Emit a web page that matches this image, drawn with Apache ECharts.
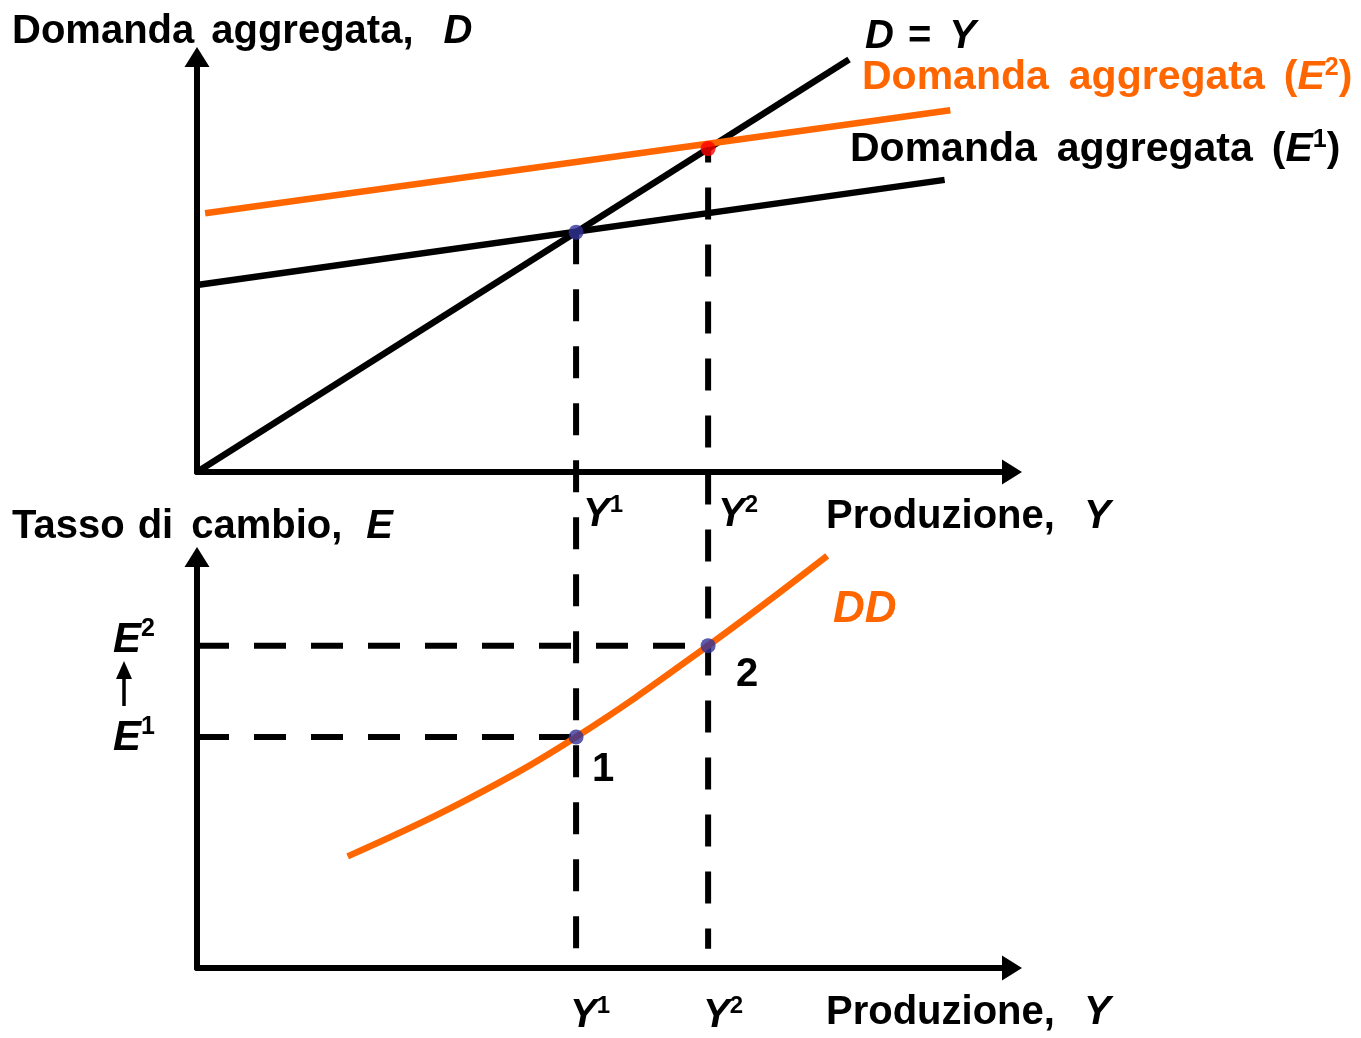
<!DOCTYPE html>
<html>
<head>
<meta charset="utf-8">
<script src="https://cdn.jsdelivr.net/npm/echarts@6/dist/echarts.min.js"></script>
<style>
html, body { margin: 0; padding: 0; background: #fff; }
#main { width: 1361px; height: 1038px; }
</style>
</head>
<body>
<div id="main"></div>
<script>
// valori (unità arbitrarie)
var Y1 = 46.8, Y2 = 63.1;          // produzione di equilibrio
var E1 = 56.9, E2 = 79.4;          // tassi di cambio
var lineDY = [[0, 0], [80.5, 80.5]];             // D = Y
var lineAD1 = [[0, 36.5], [92.3, 57.0]];         // domanda aggregata (E1)
var lineAD2 = [[1.0, 50.5], [93.0, 70.6]];       // domanda aggregata (E2)
var curveDD = [[18.6, 27.5], [32.8, 40.9], [Y1, E1], [Y2, E2], [77.8, 101.5]];
var dropEnd = -93;                               // fine delle tratteggiate (scala del pannello alto)

var ORANGE = '#FF6600';
var FONT = '"Liberation Sans", Arial, sans-serif';

var myChart = echarts.init(document.getElementById('main'));

function axis(gridIndex, max) {
    return {
        type: 'value', gridIndex: gridIndex, min: 0, max: max,
        axisLine: { show: true, onZero: false, symbol: ['none', 'triangle'], symbolSize: [25, 20],
            symbolOffset: [0, 5], lineStyle: { color: '#000', width: 6 } },
        axisTick: { show: false }, axisLabel: { show: false }, splitLine: { show: false }
    };
}

// parts: ['n', testo] normale, ['i', testo] corsivo, ['s', testo] apice, numero = spazio in px
function label(parts, x, y, size, color) {
    color = color || '#000';
    var rich = {
        n: { fontSize: size, fontWeight: 'bold', fontFamily: FONT, fill: color, lineHeight: size + 4 },
        i: { fontSize: size, fontWeight: 'bold', fontStyle: 'italic', fontFamily: FONT, fill: color, lineHeight: size + 4 },
        s: { fontSize: Math.round(size * 0.6), fontWeight: 'bold', fontFamily: FONT, fill: color,
            verticalAlign: 'top', lineHeight: Math.round(size * 0.6) }
    };
    var text = '';
    parts.forEach(function (p) {
        if (typeof p === 'number') {
            rich['g' + p] = { width: p, fontSize: size, lineHeight: size + 4 };
            text += '{g' + p + '| }';
        } else {
            text += '{' + p[0] + '|' + p[1] + '}';
        }
    });
    return {
        type: 'text', x: x, y: y, z: 100,
        style: { text: text, rich: rich, verticalAlign: 'middle', align: 'left',
            font: 'bold ' + size + 'px ' + FONT }
    };
}

function dash(data, xi, offset) {
    return {
        type: 'line', xAxisIndex: xi, yAxisIndex: xi, data: data, symbol: 'none', clip: false,
        lineStyle: { color: '#000', width: 6, type: [32, 25], dashOffset: offset || 0 }, z: 1
    };
}

function solid(data, xi, color, smooth) {
    return {
        type: 'line', xAxisIndex: xi, yAxisIndex: xi, data: data, symbol: 'none', clip: false,
        smooth: smooth || false,
        lineStyle: { color: color, width: 6.5, cap: 'butt' }, z: 2
    };
}

function dots(data, xi, color) {
    return {
        type: 'scatter', xAxisIndex: xi, yAxisIndex: xi, data: data, symbolSize: 15,
        itemStyle: { color: color }, clip: false, z: 5
    };
}

var option = {
    animation: false,
    grid: [
        { left: 197, top: 62, width: 810, height: 410, outerBoundsMode: 'none' },
        { left: 197, top: 562, width: 810, height: 406, outerBoundsMode: 'none' }
    ],
    xAxis: [axis(0, 100), axis(1, 100)],
    yAxis: [axis(0, 80), axis(1, 100)],
    series: [
        dash([[Y1, Y1], [Y1, dropEnd]], 0, 0),
        dash([[Y2, Y2], [Y2, dropEnd]], 0, 18),
        dash([[0, E1], [Y1, E1]], 1, 0),
        dash([[0, E2], [Y2, E2]], 1, 0),
        solid(lineDY, 0, '#000'),
        solid(lineAD1, 0, '#000'),
        solid(lineAD2, 0, ORANGE),
        solid(curveDD, 1, ORANGE, 0.4),
        dots([[Y1, Y1]], 0, '#333399'),
        dots([[Y2, Y2]], 0, '#FF0000'),
        dots([[Y1, E1], [Y2, E2]], 1, '#333399')
    ],
    graphic: [
        label([['n', 'Domanda'], 17, ['n', 'aggregata,'], 30, ['i', 'D']], 12, 32, 40),
        label([['i', 'D'], 14, ['n', '='], 18, ['i', 'Y']], 865, 37, 40),
        label([['n', 'Domanda'], 20, ['n', 'aggregata'], 19, ['n', '('], ['i', 'E'], ['s', '2'], ['n', ')']], 862, 78, 41, ORANGE),
        label([['n', 'Domanda'], 20, ['n', 'aggregata'], 19, ['n', '('], ['i', 'E'], ['s', '1'], ['n', ')']], 850, 150, 41),
        label([['i', 'Y'], ['s', '1']], 583, 515, 40),
        label([['i', 'Y'], ['s', '2']], 718, 515, 40),
        label([['n', 'Produzione,'], 29, ['i', 'Y']], 826, 517, 40),
        label([['n', 'Tasso'], 13, ['n', 'di'], 18, ['n', 'cambio,'], 24, ['i', 'E']], 12, 527, 40),
        label([['i', 'DD']], 833, 610, 44, ORANGE),
        label([['i', 'E'], ['s', '2']], 113, 640, 42),
        label([['i', 'E'], ['s', '1']], 113, 738, 42),
        label([['n', '2']], 736, 675, 40),
        label([['n', '1']], 592, 770, 40),
        label([['i', 'Y'], ['s', '1']], 570, 1016, 40),
        label([['i', 'Y'], ['s', '2']], 703, 1016, 40),
        label([['n', 'Produzione,'], 29, ['i', 'Y']], 826, 1013, 40),
        {
            type: 'line', shape: { x1: 124, y1: 706, x2: 124, y2: 676 },
            style: { stroke: '#000', lineWidth: 3.5 }
        },
        {
            type: 'polygon', shape: { points: [[116, 679], [132, 679], [124, 661]] },
            style: { fill: '#000' }
        }
    ]
};

myChart.setOption(option);
</script>
</body>
</html>
